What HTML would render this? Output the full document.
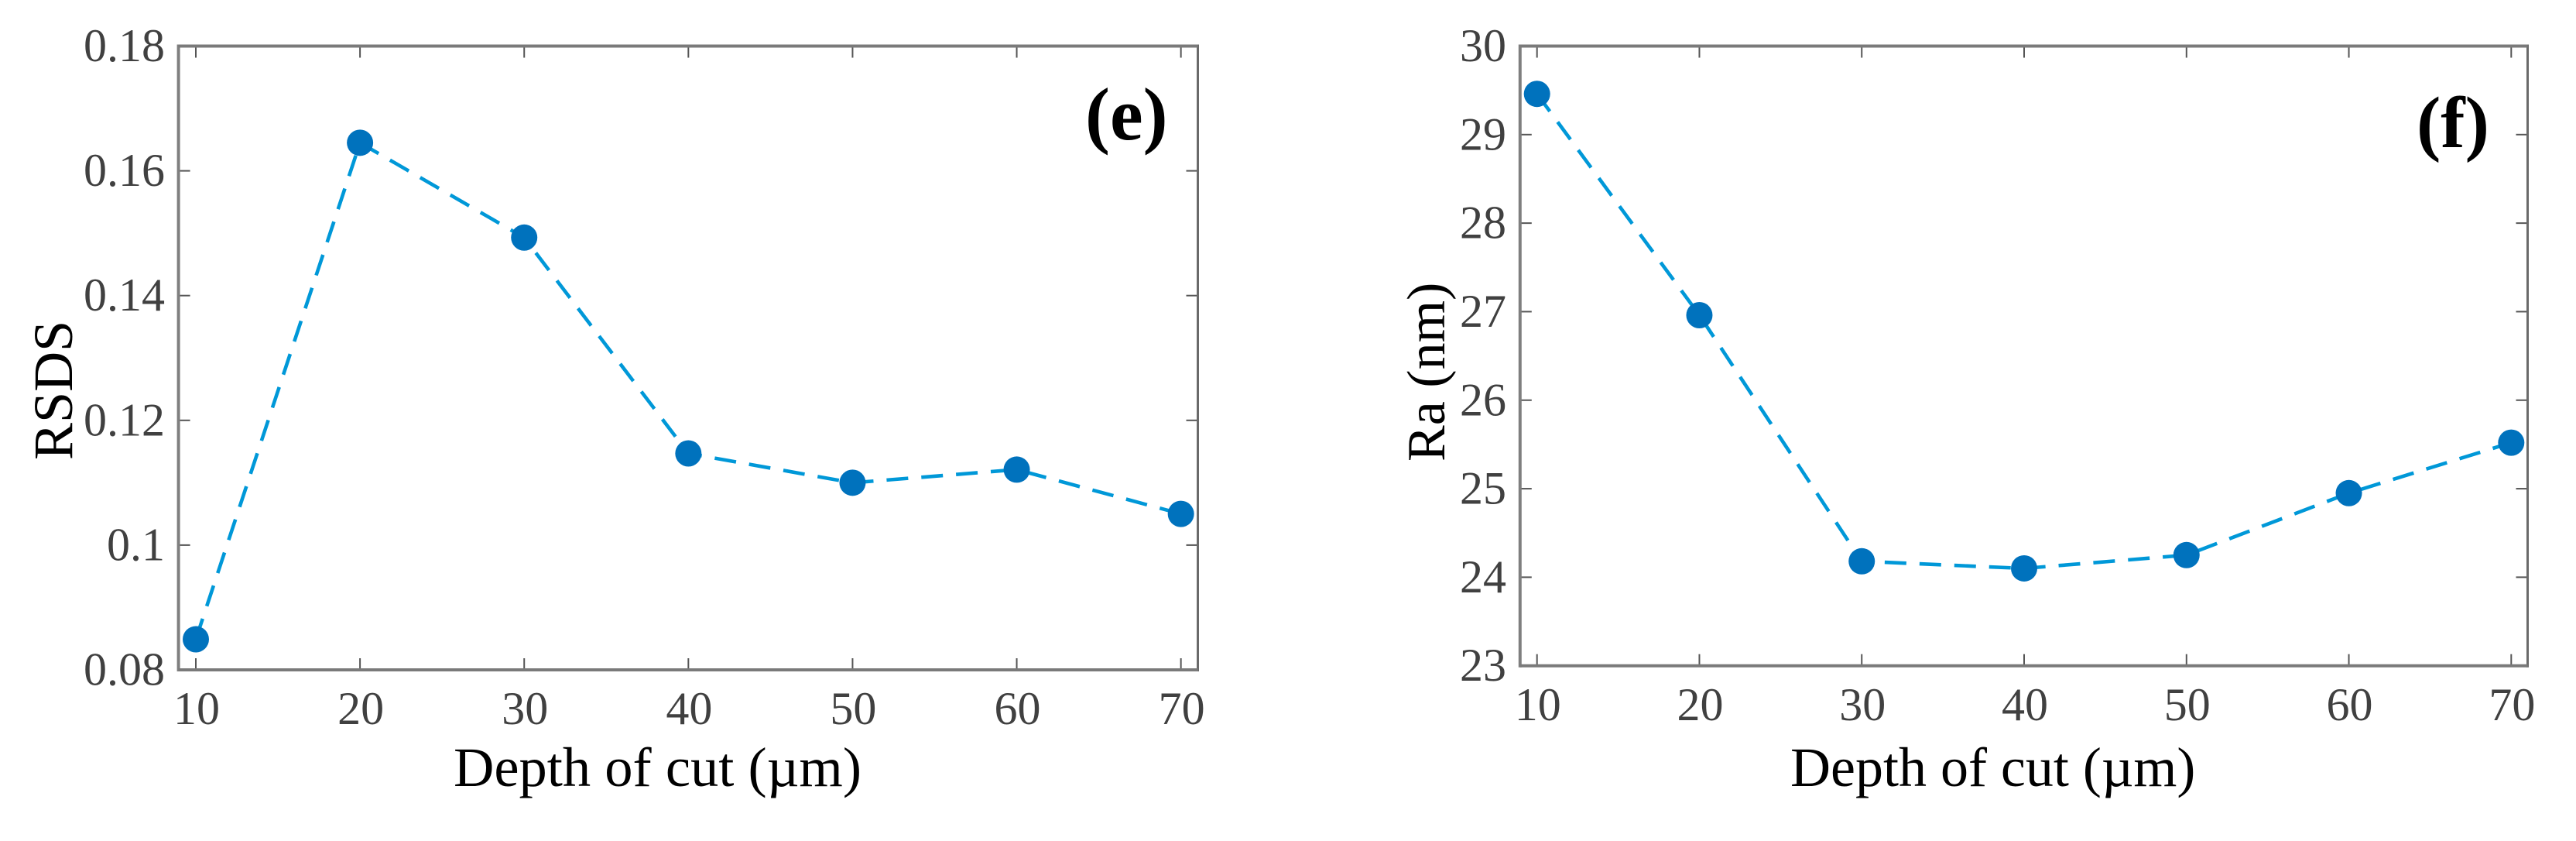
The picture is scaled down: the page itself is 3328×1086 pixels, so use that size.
<!DOCTYPE html>
<html lang="en">
<head>
<meta charset="utf-8">
<title>RSDS and Ra versus depth of cut</title>
<style>
  html, body { margin: 0; padding: 0; background: #ffffff; }
  body { width: 3328px; height: 1086px; overflow: hidden; }
  svg { display: block; font-family: "Liberation Serif", "DejaVu Serif", serif; }
</style>
</head>
<body>
<svg id="figure" xmlns="http://www.w3.org/2000/svg" width="3328" height="1086" viewBox="0 0 3328 1086"></svg>
<script>
const depthCategories = [10, 20, 30, 40, 50, 60, 70];
const xTickLabels = ['10', '20', '30', '40', '50', '60', '70'];

const rsdsValues = [0.0849, 0.1645, 0.1493, 0.1147, 0.1100, 0.1121, 0.1050];
const rsdsTicks = [0.08, 0.10, 0.12, 0.14, 0.16, 0.18];
const rsdsTickLabels = ['0.08', '0.1', '0.12', '0.14', '0.16', '0.18'];

const raValues = [29.46, 26.96, 24.18, 24.10, 24.25, 24.95, 25.52];
const raTicks = [23, 24, 25, 26, 27, 28, 29, 30];
const raTickLabels = ['23', '24', '25', '26', '27', '28', '29', '30'];

const SVG_NS = 'http://www.w3.org/2000/svg';
const figure = document.getElementById('figure');

function make(tag, attrs, parent, text) {
  const el = document.createElementNS(SVG_NS, tag);
  for (const key in attrs) el.setAttribute(key, attrs[key]);
  if (text !== undefined) el.textContent = text;
  parent.appendChild(el);
  return el;
}

function drawChart(c) {
  const xScale = v => c.left + (v - c.xMin) / (c.xMax - c.xMin) * (c.right - c.left);
  const yScale = v => c.bottom - (v - c.yMin) / (c.yMax - c.yMin) * (c.bottom - c.top);

  const group = make('g', {}, figure);
  
  

  // Tick marks on all four sides
  c.categories.forEach((v, i) => {
    const x = xScale(v);
    const bottomTick = make('line', { x1: x, x2: x, y1: c.bottom, y2: c.bottom - 15, stroke: '#555555', 'stroke-width': 2 }, group);
    
    
    const topTick = make('line', { x1: x, x2: x, y1: c.top, y2: c.top + 15, stroke: '#555555', 'stroke-width': 2 }, group);
    
    
    const label = make('text', { x: x + 1, y: c.bottom + c.xLabelOffset, 'text-anchor': 'middle', 'font-size': 60, fill: '#404040' }, group, c.xLabels[i]);
    
    
  });

  c.yTicks.forEach((v, i) => {
    const y = yScale(v);
    const leftTick = make('line', { x1: c.left, x2: c.left + 15, y1: y, y2: y, stroke: '#555555', 'stroke-width': 2 }, group);
    
    
    const rightTick = make('line', { x1: c.right, x2: c.right - 15, y1: y, y2: y, stroke: '#555555', 'stroke-width': 2 }, group);
    
    
    const label = make('text', { x: c.yLabelEnd, y: y + 19.5, 'text-anchor': 'end', 'font-size': 60, fill: '#404040' }, group, c.yLabels[i]);
    
    
  });

  // Axes box
  const axisLeft = make('line', { x1: c.left, x2: c.left, y1: c.top - 2, y2: c.bottom + 2, stroke: '#7f7f7f', 'stroke-width': 4 }, group);
  
  
  const axisRight = make('line', { x1: c.right, x2: c.right, y1: c.top - 2, y2: c.bottom + 2, stroke: '#6a6a6a', 'stroke-width': 3 }, group);
  
  
  const axisTop = make('line', { x1: c.left, x2: c.right, y1: c.top, y2: c.top, stroke: '#7a7a7a', 'stroke-width': 4 }, group);
  
  
  const axisBottom = make('line', { x1: c.left, x2: c.right, y1: c.bottom, y2: c.bottom, stroke: '#7a7a7a', 'stroke-width': 4 }, group);
  
  

  // Series line
  const points = c.categories.map((v, i) => xScale(v).toFixed(1) + ',' + yScale(c.values[i]).toFixed(1)).join(' ');
  const line = make('polyline', { points: points, fill: 'none', stroke: '#0098d8', 'stroke-width': 4.6, 'stroke-dasharray': '28 17' }, group);
  
  

  // Series markers
  c.categories.forEach((v, i) => {
    const dot = make('circle', { cx: xScale(v), cy: yScale(c.values[i]), r: 17, fill: '#0072bd' }, group);
    
    
  });

  // Titles
  const xTitle = make('text', { x: c.xTitleX, y: 1015, 'font-size': c.xTitleSize, fill: '#000000' }, group, 'Depth of cut (\u00b5m)');
  
  

  const yTitle = make('text', { transform: 'translate(' + c.yTitleX + ' ' + c.yTitleY + ') rotate(-90)', 'font-size': c.yTitleSize, fill: '#000000' }, group, c.yTitle);
  
  

  const panel = make('text', { x: c.panelX, y: c.panelY, 'font-size': c.panelSize, 'font-weight': 'bold', fill: '#000000' }, group, c.panel);
  
  
}

drawChart({
  name: 'rsds', categories: depthCategories, values: rsdsValues,
  xLabels: xTickLabels, yTicks: rsdsTicks, yLabels: rsdsTickLabels,
  left: 230.6, right: 1547.5, top: 59.5, bottom: 865,
  xMin: 8.944, xMax: 71.03, yMin: 0.08, yMax: 0.18,
  yLabelEnd: 213, xLabelOffset: 70,
  xTitleX: 586, xTitleSize: 72.5,
  yTitle: 'RSDS', yTitleX: 93, yTitleY: 594, yTitleSize: 72,
  panel: '(e)', panelX: 1402, panelY: 180, panelSize: 96
});

drawChart({
  name: 'ra', categories: depthCategories, values: raValues,
  xLabels: xTickLabels, yTicks: raTicks, yLabels: raTickLabels,
  left: 1963.8, right: 3265.5, top: 59.5, bottom: 859.7,
  xMin: 8.956, xMax: 71.01, yMin: 23, yMax: 30,
  yLabelEnd: 1946, xLabelOffset: 70.5,
  xTitleX: 2313, xTitleSize: 72,
  yTitle: 'Ra (nm)', yTitleX: 1866, yTitleY: 596, yTitleSize: 70,
  panel: '(f)', panelX: 3122, panelY: 190, panelSize: 94
});
</script>
</body>
</html>
